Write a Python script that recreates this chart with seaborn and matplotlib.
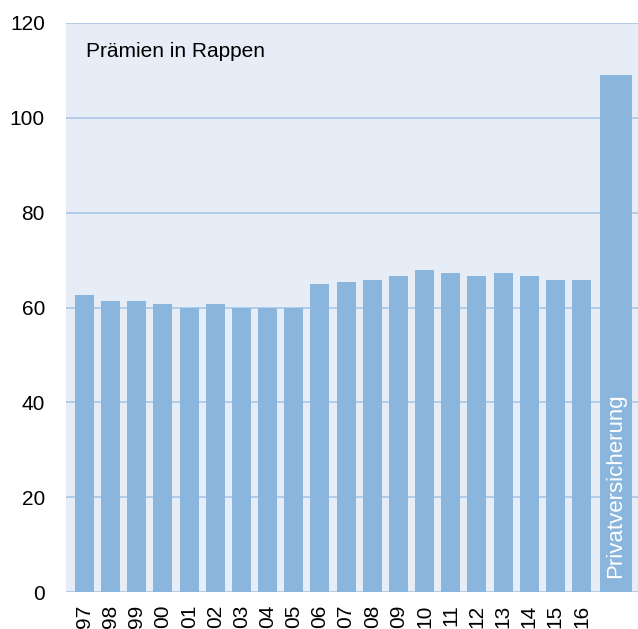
import matplotlib
matplotlib.use("Agg")
import matplotlib.pyplot as plt
import seaborn as sns
import pandas as pd

# Werte (Rappen)
years = ['97', '98', '99', '00', '01', '02', '03', '04', '05', '06',
         '07', '08', '09', '10', '11', '12', '13', '14', '15', '16']
year_values = [62.6, 61.4, 61.4, 60.7, 60.0, 60.7, 60.0, 60.0, 60.0, 65.0,
               65.4, 65.8, 66.6, 67.9, 67.3, 66.6, 67.3, 66.6, 65.8, 65.8]
private_label = 'Privatversicherung'
private_value = 109.0
y_ticks = [0, 20, 40, 60, 80, 100, 120]
title_text = 'Prämien in Rappen'

bar_color = '#8ab5dd'
bg_color = '#e7edf7'
grid_color = '#a9c7e7'

sns.set_style('white')
plt.rcParams['font.family'] = ['Liberation Sans', 'DejaVu Sans']

df = pd.DataFrame({'TYPE': years + [private_label],
                   'VALUE': year_values + [private_value]})

fig = plt.figure(figsize=(6.38, 6.29), dpi=100)
ax = fig.add_axes([66 / 638, 37 / 629, 572 / 638, 569 / 629])
ax.set_facecolor(bg_color)

sns.barplot(x='TYPE', y='VALUE', data=df, order=years + [private_label],
            color=bar_color, saturation=1, width=0.726, linewidth=0, ax=ax)

# the private insurance bar is wider and set apart a bit
priv_pos = 20.32
priv_width = 1.22
bar = ax.patches[-1]
bar.set_x(priv_pos - priv_width / 2)
bar.set_width(priv_width)
ax.text(priv_pos, 3, private_label, rotation=90, ha='center', va='bottom',
        color='white', fontsize=16)

ax.set_xlim(-0.707, 21.16)
ax.set_ylim(0, 120)
ax.set_yticks(y_ticks)
ax.set_xticks(range(len(years) + 1))
ax.set_xticklabels(years + [''], rotation=90)
ax.set_xlabel('')
ax.set_ylabel('')

ax.set_axisbelow(True)
ax.grid(axis='y', color=grid_color, linewidth=1.2)
ax.grid(axis='x', visible=False)
for s in ax.spines.values():
    s.set_visible(False)
ax.tick_params(axis='y', length=7.2, width=1.2, color=grid_color, pad=8,
               labelsize=15, labelcolor='black')
ax.tick_params(axis='x', length=0, pad=9, labelsize=15, labelcolor='black')

ax.text(0.035, 0.95, title_text, transform=ax.transAxes, ha='left',
        va='center', fontsize=15, color='black')

fig.savefig('out.png', dpi=100, facecolor='white')
